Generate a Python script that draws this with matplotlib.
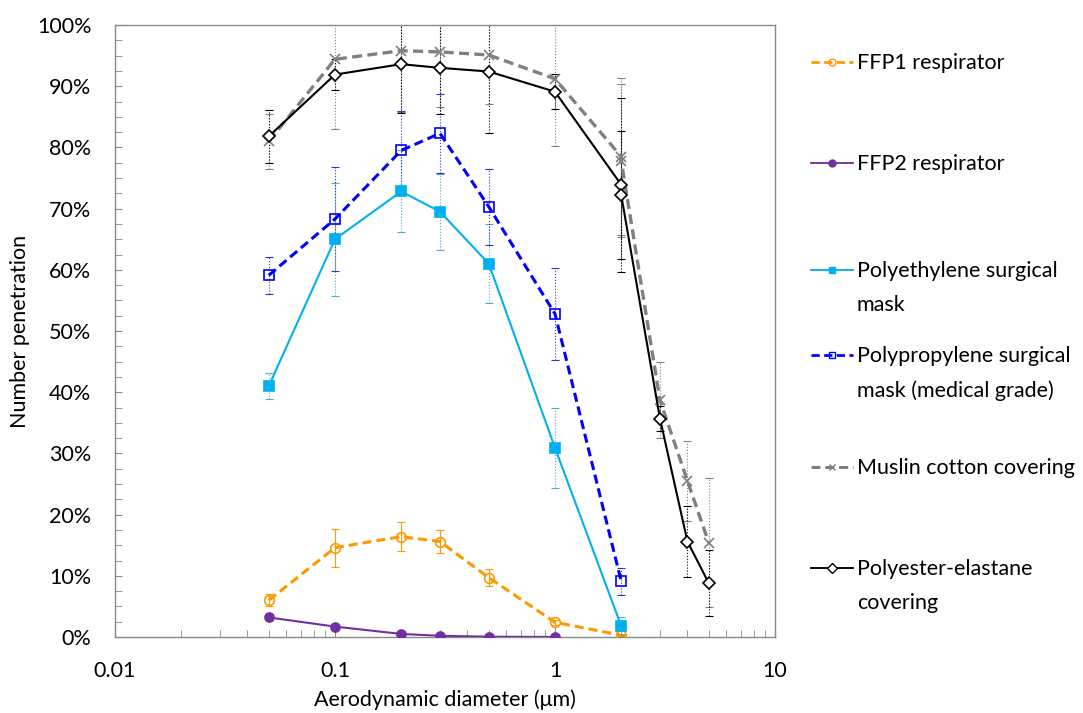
import matplotlib
matplotlib.use("Agg")
import matplotlib.pyplot as plt
from matplotlib.lines import Line2D
from matplotlib.ticker import MultipleLocator
import numpy as np

plt.rcParams['font.family'] = ['Lato', 'DejaVu Sans']

# ---- data ----
x_ffp1 = [0.05, 0.1, 0.2, 0.3, 0.5, 1, 2]
y_ffp1 = [6.0, 14.6, 16.4, 15.6, 9.7, 2.4, 0.3]
e_ffp1 = [1.0, 3.1, 2.4, 1.9, 1.4, 0.4, 0.2]

x_ffp2 = [0.05, 0.1, 0.2, 0.3, 0.5, 1]
y_ffp2 = [3.2, 1.7, 0.5, 0.2, 0.05, 0.0]
e_ffp2 = [0.5, 0.2, 0.1, 0.05, 0.02, 0.0]

x_pe = [0.05, 0.1, 0.2, 0.3, 0.5, 1, 2]
y_pe = [41.0, 65.0, 72.8, 69.5, 61.0, 30.9, 1.8]
e_pe = [2.1, 9.2, 6.7, 6.2, 6.5, 6.6, 1.5]

x_pp = [0.05, 0.1, 0.2, 0.3, 0.5, 1, 2]
y_pp = [59.1, 68.3, 79.5, 82.3, 70.3, 52.8, 9.1]
e_pp = [3.0, 8.5, 6.5, 6.5, 6.2, 7.5, 2.2]

x_mus = [0.05, 0.1, 0.2, 0.3, 0.5, 1, 2, 2, 3, 4, 5]
y_mus = [81.0, 94.4, 95.8, 95.6, 95.1, 91.2, 78.5, 77.8, 38.7, 25.5, 15.4]
e_mus = [4.5, 11.4, 10.0, 9.0, 8.0, 11.0, 12.8, 12.5, 6.2, 6.5, 10.5]

x_pes = [0.05, 0.1, 0.2, 0.3, 0.5, 1, 2, 2, 3, 4, 5]
y_pes = [81.8, 91.9, 93.6, 93.0, 92.4, 89.1, 73.9, 72.2, 35.7, 15.6, 8.8]
e_pes = [4.3, 2.6, 8.0, 7.5, 10.0, 2.9, 14.2, 10.5, 2.0, 5.8, 5.4]

labels = ["FFP1 respirator", "FFP2 respirator", "Polyethylene surgical\nmask",
          "Polypropylene surgical\nmask (medical grade)", "Muslin cotton covering",
          "Polyester-elastane\ncovering"]

FS = 15.5
W, H = 1083, 713
fig = plt.figure(figsize=(W / 100, H / 100), dpi=100)
ax = fig.add_axes([115 / W, 1 - 637 / H, (775 - 115) / W, (637 - 25) / H])

dash = (0, (3, 1.6))
series = [
    dict(x=x_ffp1, y=y_ffp1, e=e_ffp1, color='#FF9900', ecolor='#FF9900', marker='o', mfc='none', ls=dash, lw=2.2, ms=7, els='-'),
    dict(x=x_ffp2, y=y_ffp2, e=e_ffp2, color='#7030A0', ecolor='#7030A0', marker='o', mfc='#7030A0', ls='-', lw=1.5, ms=6.5, els='-'),
    dict(x=x_pe, y=y_pe, e=e_pe, color='#00B0F0', ecolor='#4BACC6', marker='s', mfc='#00B0F0', ls='-', lw=1.5, ms=6.5, els=':'),
    dict(x=x_pp, y=y_pp, e=e_pp, color='#0000FF', ecolor='#3333CC', marker='s', mfc='none', ls=dash, lw=2.2, ms=7, els=':'),
    dict(x=x_mus, y=y_mus, e=e_mus, color='#808080', ecolor='#808080', marker='x', mfc='none', ls=dash, lw=2.4, ms=7, els=':'),
    dict(x=x_pes, y=y_pes, e=e_pes, color='#000000', ecolor='#000000', marker='D', mfc='white', ls='-', lw=1.5, ms=6, els=':'),
]

for s in series:
    cont = ax.errorbar(s['x'], s['y'], yerr=s['e'], color=s['color'], ecolor=s['ecolor'],
                       elinewidth=0.8, capsize=3, capthick=0.8, ls='none', zorder=2)
    for lc in cont[2]:
        lc.set_linestyle(s['els'])
    ax.plot(s['x'], s['y'], color=s['color'], ls=s['ls'], lw=s['lw'], marker=s['marker'],
            mfc=s['mfc'], mec=s['color'], ms=s['ms'], mew=1.2, zorder=3)

ax.set_xscale('log')
ax.set_xlim(0.01, 10)
ax.set_ylim(0, 100)
ax.set_yticks(np.arange(0, 101, 10))
ax.set_yticklabels([f"{v}%" for v in range(0, 101, 10)])
ax.yaxis.set_minor_locator(MultipleLocator(2.5))
ax.set_xticks([0.01, 0.1, 1, 10])
ax.set_xticklabels(["0.01", "0.1", "1", "10"])
ax.tick_params(axis='y', which='major', direction='in', length=5, color='#898989', labelsize=FS, pad=17)
ax.tick_params(axis='y', which='minor', direction='in', length=5, color='#898989')
ax.tick_params(axis='x', which='major', direction='in', length=7, color='#898989', labelsize=FS, pad=17)
ax.tick_params(axis='x', which='minor', direction='in', length=5, color='#898989')
for sp in ax.spines.values():
    sp.set_color('#898989')
    sp.set_linewidth(1.0)
ax.set_xlabel("Aerodynamic diameter (\u03bcm)", fontsize=FS, labelpad=6)
ax.set_ylabel("Number penetration", fontsize=FS, labelpad=5)

# manual legend positioned like reference
leg_y = [62, 163, 270, 355, 467, 568]
for s, lab, py in zip(series, labels, leg_y):
    fy = 1 - py / H
    fig.add_artist(Line2D([811 / W, 853 / W], [fy, fy], transform=fig.transFigure,
                          color=s['color'], ls=s['ls'], lw=s['lw'] * 0.9))
    fig.add_artist(Line2D([832 / W], [fy], transform=fig.transFigure, color=s['color'],
                          marker=s['marker'], mfc=s['mfc'], mec=s['color'], ms=5, mew=1.0, ls='none'))
    fig.text(857 / W, fy + 9 / H, lab, fontsize=FS, va='top', ha='left', linespacing=1.85)

fig.savefig("out.png", dpi=100)
